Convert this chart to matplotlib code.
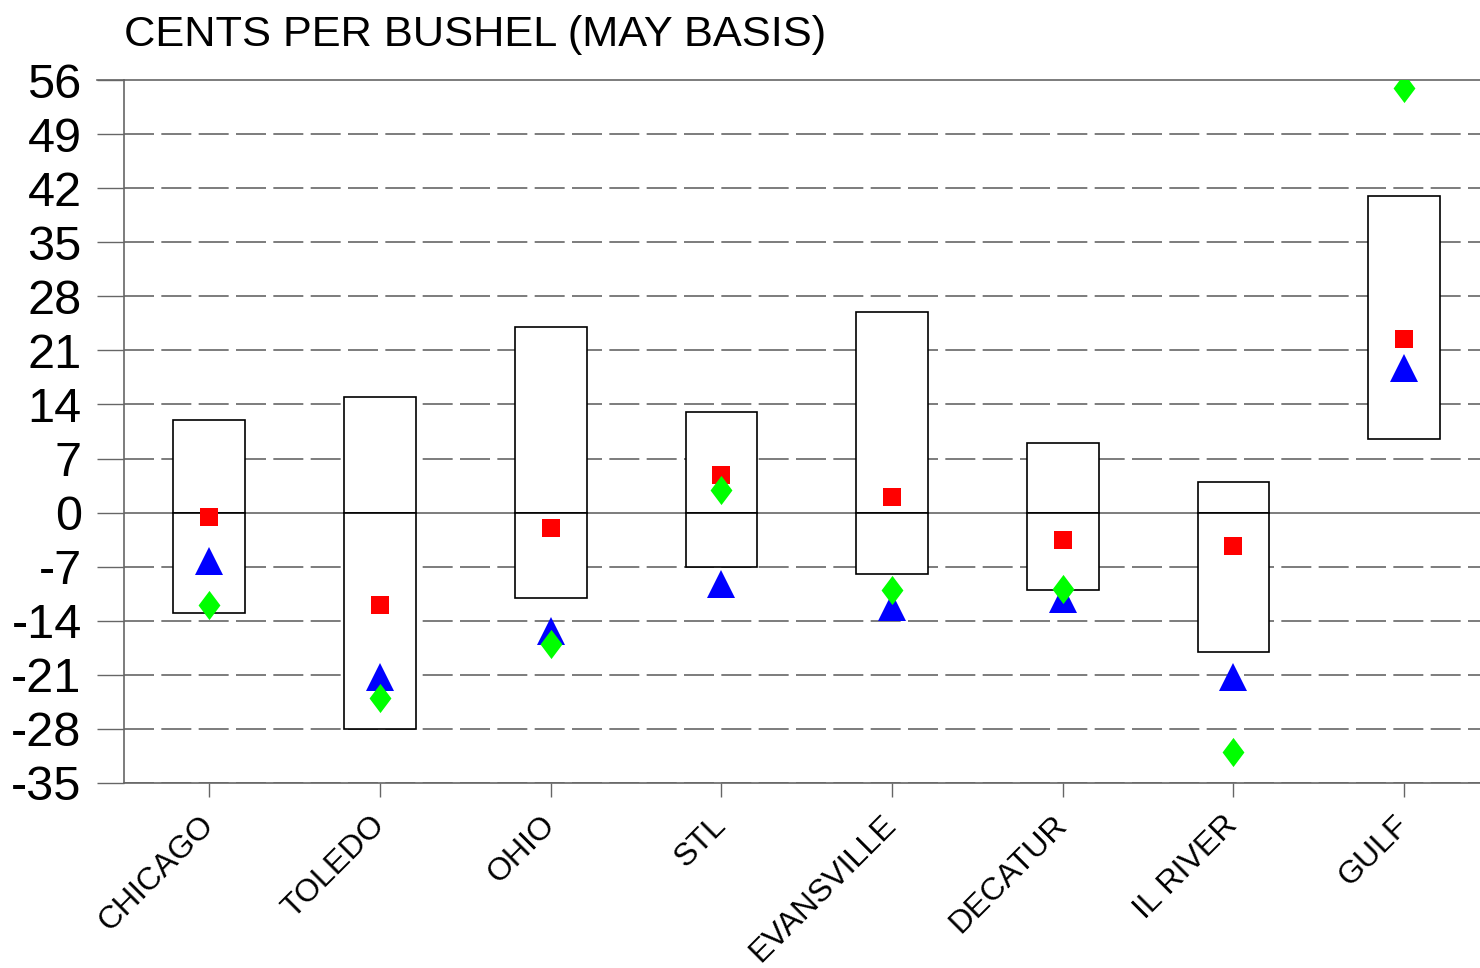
import numpy as np
import matplotlib
matplotlib.use("Agg")
import matplotlib.pyplot as plt
from matplotlib.path import Path

plt.rcParams['font.family'] = ['Liberation Sans', 'DejaVu Sans']

markets = ['CHICAGO', 'TOLEDO', 'OHIO', 'STL', 'EVANSVILLE', 'DECATUR', 'IL RIVER', 'GULF']
range_hi = [12, 15, 24, 13, 26, 9, 4, 41]
range_lo = [-13, -28, -11, -7, -8, -10, -18, 9.5]
red_sq = [-0.6, -12, -2, 4.9, 2, -3.5, -4.3, 22.5]
blue_tri = [-6.3, -21.3, -15.3, -9.2, -12.2, -11.2, -21.3, 18.7]
green_dia = [-12, -24, -17, 2.9, -10, -9.9, -31, 55]
yticks = np.arange(-35, 57, 7)

gray = '#666666'
x = np.arange(len(markets))

fig = plt.figure(figsize=(14.8, 9.68), dpi=100)
ax = fig.add_axes([124/1480, 1-783/968, 1-124/1480, (783-80)/968])

# grid
for v in yticks:
    if v == 0:
        ax.axhline(0, color=gray, lw=1.2, zorder=1)
    elif v != 56:
        ax.axhline(v, color=gray, lw=1.2, ls=(0, (18, 4.4)), zorder=0.5)

# range boxes (split at zero when they straddle it)
for i in range(len(markets)):
    lo, hi = range_lo[i], range_hi[i]
    if lo < 0 < hi:
        ax.bar(x[i], hi, width=0.42, bottom=0, color='white', edgecolor='black', lw=1.2, zorder=2)
        ax.bar(x[i], -lo, width=0.42, bottom=lo, color='white', edgecolor='black', lw=1.2, zorder=2)
    else:
        ax.bar(x[i], hi-lo, width=0.42, bottom=lo, color='white', edgecolor='black', lw=1.2, zorder=2)

dia = Path([(0, 1), (0.75, 0), (0, -1), (-0.75, 0), (0, 1)],
           [Path.MOVETO, Path.LINETO, Path.LINETO, Path.LINETO, Path.CLOSEPOLY])
ax.plot(x, red_sq, 's', color='#ff0000', ms=13, mew=0, zorder=3)
ax.plot(x, blue_tri, '^', color='#0000ff', ms=20, mew=0, zorder=4)
ax.plot(x, green_dia, ls='none', marker=dia, color='#00ff00', ms=21, mew=0, zorder=5)

ax.set_xlim(-0.5, 7.445)
ax.set_ylim(-35, 56)
ax.set_yticks(yticks)
ax.set_yticklabels([str(v) for v in yticks], fontsize=35)
ax.set_xticks(x)
ax.set_xticklabels(markets, fontsize=23, rotation=45, ha='right', va='center', rotation_mode='anchor')
ax.tick_params(axis='y', length=19.5, width=1, color=gray, pad=11)
ax.tick_params(axis='x', length=10, width=1, color=gray, pad=17)

for s in ['left', 'bottom', 'top']:
    ax.spines[s].set_color(gray)
    ax.spines[s].set_linewidth(1.2)
ax.spines['right'].set_visible(False)
# extend top line leftwards like a tick
ax.plot([-0.5 - 27/170.7, -0.5], [56, 56], color=gray, lw=1.2, clip_on=False)

fig.text(124/1480, 1-46/968, 'CENTS PER BUSHEL (MAY BASIS)', fontsize=31.2, va='baseline', ha='left')

fig.savefig('out.png', dpi=100)
